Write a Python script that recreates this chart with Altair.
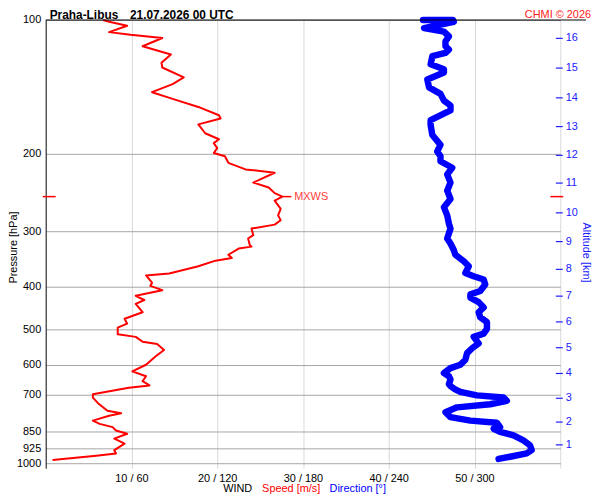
import altair as alt
import pandas as pd

# ---- wind speed profile (pressure hPa, speed m/s) ----
speed_p = [100.0, 100.9, 103.0, 106.5, 108.0, 109.8, 114.6, 119.6, 124.8, 128.0,
           134.7, 139.5, 145.5, 150.6, 157.1, 164.0, 166.8, 172.0, 180.1, 185.8,
           189.6, 194.5, 199.5, 202.9, 210.0, 217.3, 221.1, 232.7, 238.7, 245.8,
           250.3, 255.5, 266.7, 275.9, 283.0, 289.5, 295.5, 305.7, 311.1, 321.8,
           324.6, 327.9, 338.6, 344.4, 349.1, 359.4, 373.1, 376.9, 391.4, 398.1,
           407.0, 419.0, 428.3, 437.2, 456.4, 472.1, 484.4, 494.3, 511.6, 518.7,
           532.1, 538.4, 555.2, 574.5, 599.5, 620.4, 636.5, 653.0, 667.6, 675.5,
           699.1, 711.0, 732.0, 761.5, 771.7, 781.2, 801.4, 815.1, 829.0, 843.6,
           857.9, 880.2, 903.0, 934.4, 950.3, 961.6, 983.3]
speed_v = [6.7, 7.4, 9.5, 7.4, 9.9, 13.6, 11.3, 14.6, 13.5, 13.6,
           16.1, 14.8, 12.4, 14.8, 17.8, 20.2, 20.4, 17.8, 18.6, 20.2,
           19.6, 20.0, 19.6, 20.9, 21.3, 23.3, 26.7, 24.2, 26.0, 26.7,
           27.6, 26.7, 27.4, 27.1, 27.4, 26.7, 24.0, 24.2, 23.6, 23.8,
           24.0, 22.5, 21.3, 21.7, 19.8, 17.8, 14.4, 11.7, 12.4, 12.2,
           13.6, 10.5, 11.5, 10.5, 11.3, 9.2, 9.5, 8.4, 8.4, 10.5,
           11.3, 13.0, 13.8, 12.8, 11.7, 10.1, 11.7, 11.3, 12.1, 9.7,
           5.5, 5.5, 6.1, 7.2, 8.8, 7.4, 5.5, 6.3, 7.8, 8.2,
           9.5, 8.0, 9.2, 8.0, 8.2, 5.9, 0.8]

# ---- wind direction profile (pressure hPa, direction deg) ----
dir_p = [100.0, 100.0, 100.9, 104.3, 106.2, 108.9, 111.7, 114.6, 116.6, 118.6,
         120.7, 125.9, 129.2, 131.4, 136.2, 141.9, 146.8, 152.0, 155.9, 160.0,
         168.3, 172.6, 181.8, 191.3, 197.9, 203.0, 208.3, 215.4, 223.0, 232.7,
         242.7, 253.4, 264.4, 276.0, 288.1, 295.6, 311.1, 319.4, 330.4, 338.6,
         350.3, 359.4, 372.1, 378.5, 384.9, 395.1, 408.8, 416.0, 423.0, 433.0,
         445.0, 456.4, 468.3, 480.5, 497.5, 510.0, 518.7, 536.6, 550.4, 564.5,
         584.0, 599.5, 610.0, 626.0, 636.5, 647.0, 663.0, 669.7, 681.3, 690.0,
         703.0, 711.0, 723.0, 736.0, 748.0, 767.0, 787.0, 801.4, 810.0, 829.0,
         836.0, 850.0, 865.0, 888.0, 911.0, 934.4, 950.3, 967.0, 978.0]
dir_v = [264.0, 285.0, 285.5, 264.7, 278.6, 282.1, 279.7, 279.7, 282.1, 279.7,
         270.5, 269.3, 278.6, 278.6, 267.0, 268.2, 276.2, 278.6, 283.2, 283.2,
         269.3, 269.3, 270.5, 276.2, 273.9, 276.2, 276.2, 284.4, 280.9, 283.2,
         280.9, 283.2, 278.6, 280.9, 282.1, 283.2, 280.9, 283.2, 285.5, 286.6,
         292.5, 296.0, 293.6, 299.4, 306.4, 307.5, 304.0, 297.1, 297.1, 302.9,
         306.4, 302.9, 304.0, 308.7, 308.7, 306.4, 299.4, 302.9, 298.3, 294.8,
         293.6, 290.1, 283.2, 278.6, 282.1, 283.2, 282.1, 283.2, 286.5, 290.1,
         301.7, 320.3, 322.6, 311.0, 287.8, 279.7, 283.2, 297.1, 315.6, 317.9,
         313.4, 317.9, 327.3, 334.2, 338.8, 340.0, 336.5, 324.9, 316.8]

# ---- axes ----
p_ticks = [100, 200, 300, 400, 500, 600, 700, 850, 925, 1000]
speed_ticks = [10, 20, 30, 40, 50, 60]
alt_km = [1, 2, 3, 4, 5, 6, 7, 8, 9, 10, 11, 12, 13, 14, 15, 16]
alt_p = [906.2, 803.8, 710.7, 625.6, 547.6, 478.6, 419.0, 364.4, 316.2, 271.3,
         233.0, 201.3, 173.5, 149.3, 128.0, 109.8]
p_domain = [100, 1026]
speed_domain = [0, 60]

# ---- maximum wind ----
mxws_p = [250.3]
mxws_s = [27.6]

RED = "#ff0000"
BLUE = "#0000ff"
ABLUE = "#2020ff"

speed_df = pd.DataFrame({"p": speed_p, "s": speed_v, "i": list(range(len(speed_p)))})
dir_df = pd.DataFrame({"p": dir_p, "d": dir_v, "i": list(range(len(dir_p)))})
alt_df = pd.DataFrame({"km": alt_km, "p": alt_p})
mx_df = pd.DataFrame({"p": mxws_p, "s": mxws_s})
top_df = pd.DataFrame({"p": [p_domain[0]]})
one = pd.DataFrame({"a": [0]})

yscale = alt.Scale(type="log", domain=p_domain, reverse=True, nice=False, zero=False)
xscale = alt.Scale(domain=speed_domain, nice=False, zero=False)

xaxis = alt.Axis(values=speed_ticks,
                 labelExpr="datum.value < 60 ? datum.value + ' / ' + datum.value * 6 : ''",
                 grid=True, gridColor="#d9d9d9", gridWidth=1, domain=False, ticks=False,
                 labelFontSize=11, labelColor="black", labelPadding=4, title=None)
yaxis = alt.Axis(values=p_ticks, format="d", grid=True, gridColor="#a6a6a6", gridWidth=1,
                 domain=True, domainColor="black", domainWidth=1, ticks=False,
                 labelFontSize=11, labelColor="black", labelPadding=5,
                 title="Pressure [hPa]", titleFontSize=11, titleFontWeight="normal",
                 titleColor="black", titleX=-29.5, titleY=229, titleAngle=270,
                 titleAlign="center", titleBaseline="alphabetic")

red = alt.Chart(speed_df).mark_line(color=RED, strokeWidth=2, strokeJoin="round").encode(
    x=alt.X("s:Q", scale=xscale, axis=xaxis),
    y=alt.Y("p:Q", scale=yscale, axis=yaxis),
    order="i:Q",
)

blue = alt.Chart(dir_df).transform_calculate(x="datum.d / 6").mark_line(
    color=BLUE, strokeWidth=6.5, strokeJoin="round", strokeCap="round").encode(
    x=alt.X("x:Q", scale=xscale),
    y=alt.Y("p:Q", scale=yscale),
    order="i:Q",
)

mx_left = alt.Chart(mx_df).mark_rule(color=RED, strokeWidth=1.5).encode(
    y=alt.Y("p:Q", scale=yscale), x=alt.value(-3), x2=alt.value(10))
mx_right = alt.Chart(mx_df).mark_rule(color=RED, strokeWidth=1.5).encode(
    y=alt.Y("p:Q", scale=yscale), x=alt.value(509), x2=alt.value(522))
mx_line = alt.Chart(mx_df).transform_calculate(s2="datum.s + 1.05").mark_rule(
    color=RED, strokeWidth=1.5).encode(
    x=alt.X("s:Q", scale=xscale), x2="s2:Q",
    y=alt.Y("p:Q", scale=yscale))
mx_text = alt.Chart(mx_df).mark_text(text="MXWS", color="#ff3c3c", fontSize=11,
                                     align="left", baseline="middle", dx=12).encode(
    x=alt.X("s:Q", scale=xscale), y=alt.Y("p:Q", scale=yscale))

top_rule = alt.Chart(top_df).mark_rule(color="black", strokeWidth=1).encode(
    y=alt.Y("p:Q", scale=yscale), x=alt.value(0), x2=alt.value(545))

def label(txt, x, y, color="black", size=11, weight="normal", align="left"):
    return alt.Chart(one).mark_text(text=txt, color=color, fontSize=size, fontWeight=weight,
                                    align=align, baseline="alphabetic").encode(
        x=alt.value(x), y=alt.value(y))

t1 = label("Praha-Libus", 4, -1.5, size=12, weight="bold")
t2 = label("21.07.2026 00 UTC", 85, -1.5, size=12, weight="bold")
t3 = label("CHMI \u00a9 2026", 550, -2, color="#ff2020", align="right")
f1 = label("WIND", 179, 476.5)
f2 = label("Speed [m/s]", 218.3, 476.5, color=RED)
f3 = label("Direction [\u00b0]", 286.3, 476.5, color=BLUE)

km_expr = "[" + ",".join(str(k) for k in alt_km) + "][indexof([" + ",".join(str(v) for v in alt_p) + "], datum.value)]"

right = alt.Chart(alt_df).mark_point(opacity=0).encode(
    y=alt.Y("p:Q", scale=yscale,
            axis=alt.Axis(orient="right", values=alt_p, labelExpr=km_expr, offset=-5,
                          tickSize=7, tickColor=ABLUE, tickWidth=1.2, labelColor=ABLUE,
                          domain=False, grid=False, labelFontSize=11, labelPadding=3,
                          title="Altitude [km]", titleColor=ABLUE, titleFontSize=11,
                          titleFontWeight="normal", titleX=27, titleY=234, titleAngle=90,
                          titleAlign="center", titleBaseline="alphabetic")))

main = alt.layer(red, blue, mx_left, mx_right, mx_line, mx_text, top_rule,
                 t1, t2, t3, f1, f2, f3)

chart = alt.layer(main, right).resolve_scale(y="independent").properties(
    width=519, height=452,
    padding={"left": 38, "top": 10, "right": 32, "bottom": 30},
    autosize=alt.AutoSizeParams(type="none"),
    background="white",
).configure(font="Liberation Sans").configure_view(stroke=None)

chart.save("out.html", embed_options={"renderer": "svg", "actions": False})
